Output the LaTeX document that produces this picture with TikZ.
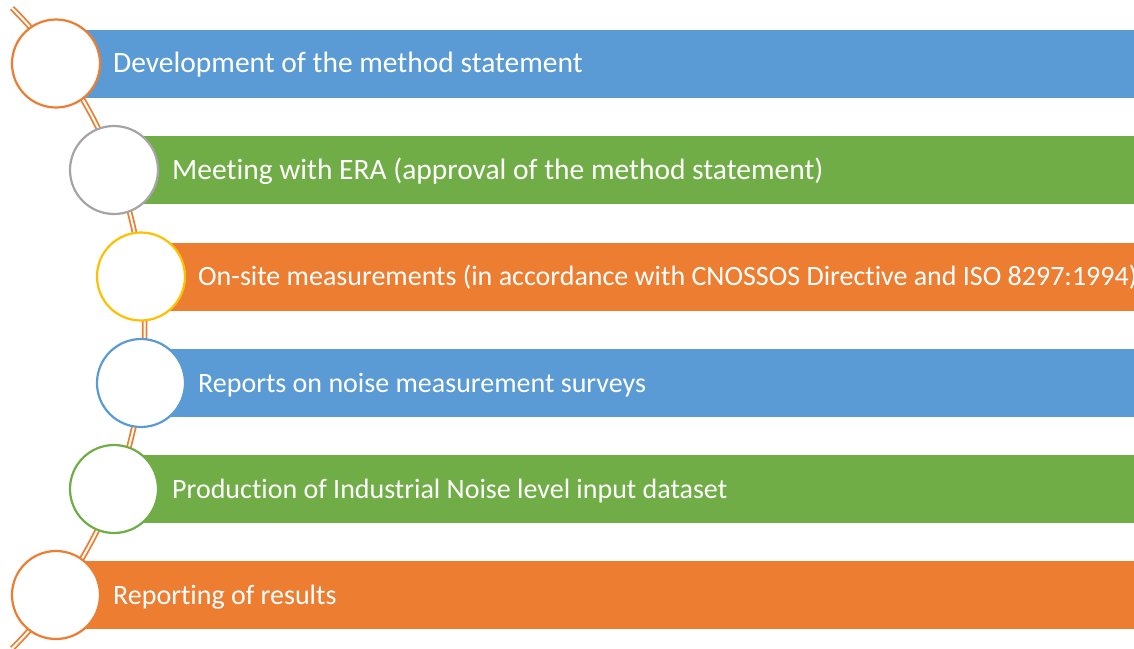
\documentclass[tikz,border=0pt]{standalone}
\usepackage{fontspec}
\setmainfont{Carlito}[Ligatures=NoCommon]

\definecolor{barblue}{HTML}{5B9BD5}
\definecolor{bargreen}{HTML}{70AD47}
\definecolor{barorange}{HTML}{ED7D31}
\definecolor{ringgray}{HTML}{A5A5A5}
\definecolor{ringyellow}{HTML}{FFC000}

\tikzset{
	spine/.style={draw=barorange,double=white,line width=1.8pt,double distance=2pt},
	ring/.style={draw,circle,fill=white,line width=2.2pt,inner sep=0,outer sep=0,minimum size=88pt},
	bar/.style={rectangle,anchor=west,inner sep=0,outer sep=0,minimum height=68pt},
	label/.style={anchor=base west,inner sep=0,text=white,font=\fontsize{28}{34}\selectfont},
	biglabel/.style={label,font=\fontsize{29.5}{34}\selectfont},
}

\begin{document}
\begin{tikzpicture}[x=1pt,y=1pt]
	\useasboundingbox (0,0) rectangle (1134,-648);
	% curved spine the rings sit on
	\coordinate (top) at (12,-8);
	\draw[spine] (top) arc[start angle=45,end angle=-45,radius=453];
	% bars
	\node[bar,fill=barblue,minimum width=1078pt] (b1) at (56,-63.5) {};
	\node[bar,fill=bargreen,minimum width=1020pt] (b2) at (114,-170) {};
	\node[bar,fill=barorange,minimum width=993pt] (b3) at (141,-276.5) {};
	\node[bar,fill=barblue,minimum width=993pt] (b4) at (141,-383) {};
	\node[bar,fill=bargreen,minimum width=1020pt] (b5) at (114,-489) {};
	\node[bar,fill=barorange,minimum width=1078pt] (b6) at (56,-595) {};
	% rings
	\node[ring,draw=barorange] (r1) at (56,-63.5) {};
	\node[ring,draw=ringgray] (r2) at (114,-170) {};
	\node[ring,draw=ringyellow] (r3) at (141,-276.5) {};
	\node[ring,draw=barblue] (r4) at (141,-383) {};
	\node[ring,draw=bargreen] (r5) at (114,-489) {};
	\node[ring,draw=barorange] (r6) at (56,-595) {};
	% texts
	\node[biglabel] (t1) at (113,-72.5) {Development of the method statement};
	\node[biglabel] (t2) at (172,-179) {Meeting with ERA (approval of the method statement)};
	\node[label] (t3) at (198,-285.5) {On-site measurements (in accordance with CNOSSOS Directive and ISO 8297:1994)};
	\node[label] (t4) at (198,-392) {Reports on noise measurement surveys};
	\node[label] (t5) at (172,-498) {Production of Industrial Noise level input dataset};
	\node[label] (t6) at (113,-604) {Reporting of results};
\end{tikzpicture}
\end{document}
